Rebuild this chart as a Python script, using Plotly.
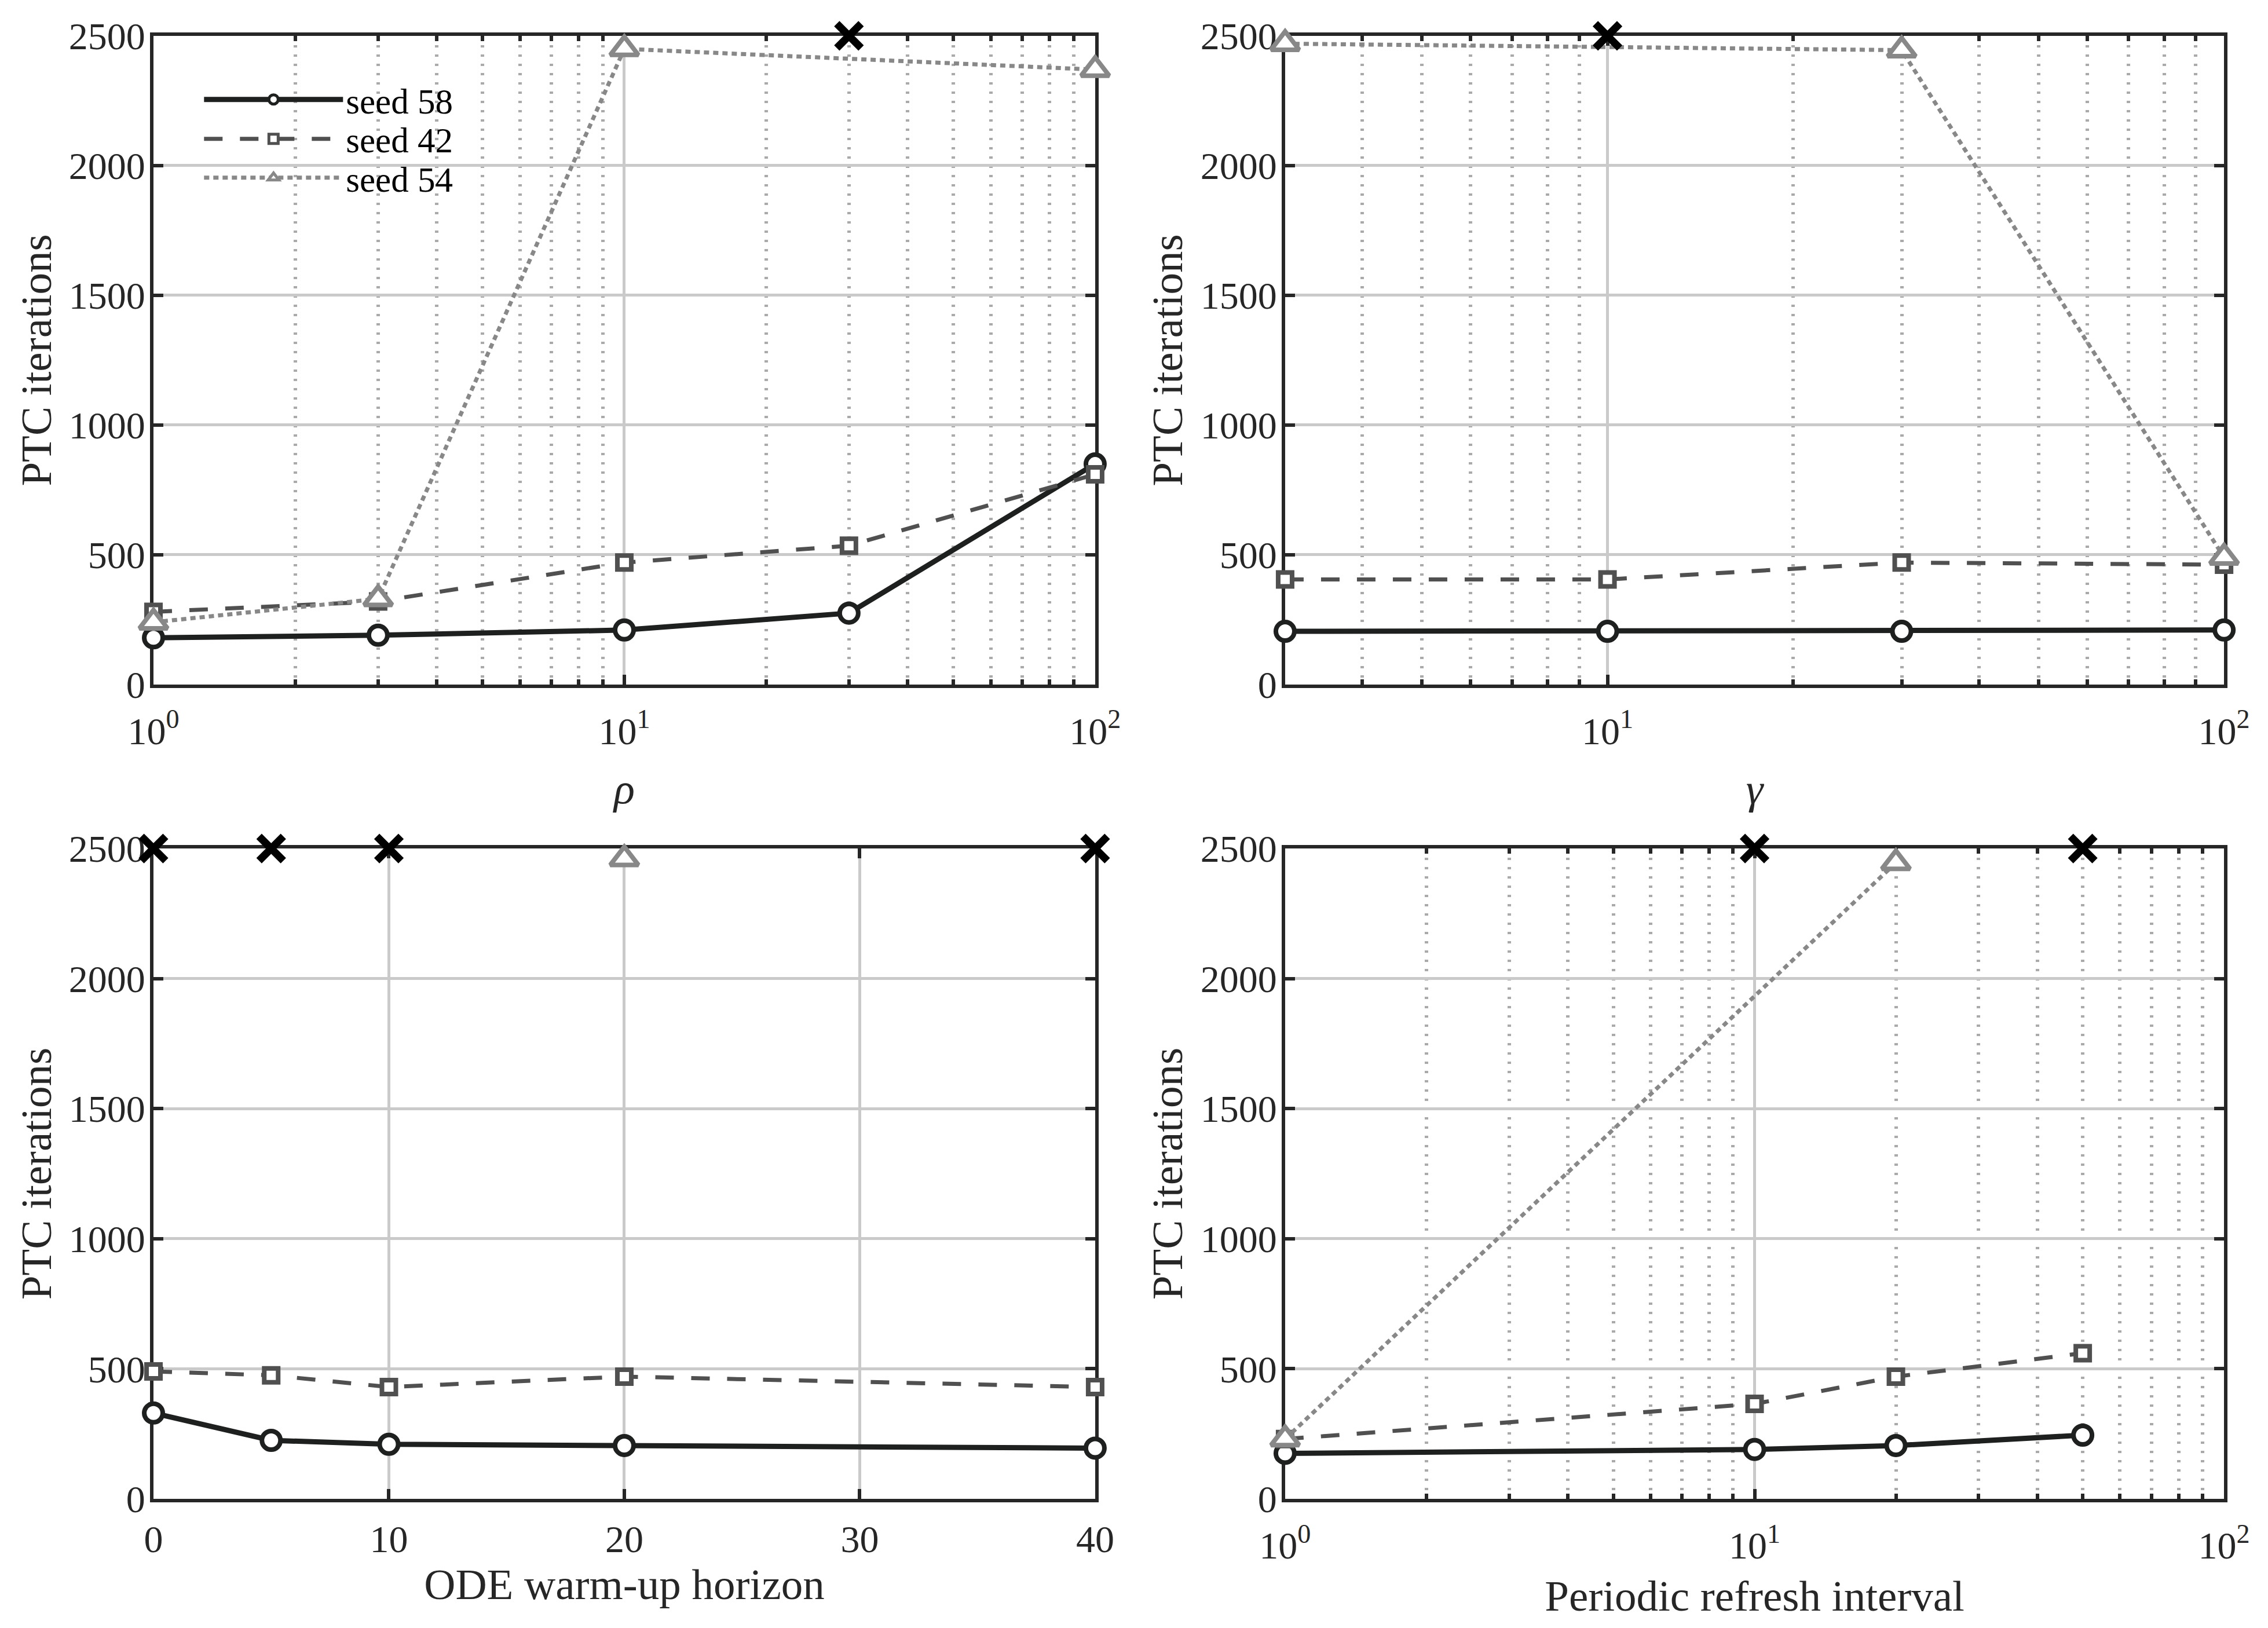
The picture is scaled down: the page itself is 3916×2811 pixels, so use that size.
import plotly.graph_objects as go
from plotly.subplots import make_subplots

# sweep values and PTC iteration counts per seed (failed runs are capped at 2500)
rho = [1, 3, 10, 30, 100]
rho_s58 = [180, 190, 210, 275, 850]
rho_s42 = [280, 320, 470, 535, 810]
rho_s54_x = [1, 3, 10, 100]
rho_s54 = [240, 330, 2450, 2370]
rho_fail = [30]

gamma = [3, 10, 30, 100]
gamma_s58 = [205, 205, 205, 210]
gamma_s42 = [405, 405, 470, 462]
gamma_s54_x = [3, 30, 100]
gamma_s54 = [2470, 2445, 490]
gamma_fail = [10]

ode = [0, 5, 10, 20, 40]
ode_s58 = [330, 225, 210, 205, 195]
ode_s42 = [490, 475, 430, 470, 430]
ode_s54_x = [20]
ode_s54 = [2460]
ode_fail = [0, 5, 10, 40]

refresh = [1, 10, 20, 50]
ref_s58 = [175, 190, 205, 245]
ref_s42 = [230, 365, 470, 560]
ref_s54_x = [1, 20]
ref_s54 = [230, 2445]
ref_fail = [10, 50]

CAP = 2500
FONT = "Liberation Serif, Times New Roman, serif"
INK = "#262626"

fig = make_subplots(rows=2, cols=2)

panels = [
    (1, 1, rho, rho_s58, rho_s42, rho_s54_x, rho_s54, rho_fail),
    (1, 2, gamma, gamma_s58, gamma_s42, gamma_s54_x, gamma_s54, gamma_fail),
    (2, 1, ode, ode_s58, ode_s42, ode_s54_x, ode_s54, ode_fail),
    (2, 2, refresh, ref_s58, ref_s42, ref_s54_x, ref_s54, ref_fail),
]

for i, (r, c, xs, s58, s42, x54, s54, fail) in enumerate(panels):
    first = i == 0
    fig.add_trace(go.Scatter(
        x=xs, y=s58, name="seed 58", mode="lines+markers", showlegend=first,
        legend="legend", cliponaxis=False,
        line=dict(color="#1e201f", width=9),
        marker=dict(symbol="circle", size=32, color="white",
                    line=dict(color="#1e201f", width=8))), row=r, col=c)
    fig.add_trace(go.Scatter(
        x=xs, y=s42, name="seed 42", mode="lines+markers", showlegend=first,
        legend="legend2", cliponaxis=False,
        line=dict(color="#505050", width=7, dash="32px,30px"),
        marker=dict(symbol="square", size=24, color="white",
                    line=dict(color="#505050", width=8))), row=r, col=c)
    fig.add_trace(go.Scatter(
        x=x54, y=s54, name="seed 54", mode="lines+markers", showlegend=first,
        legend="legend3", cliponaxis=False,
        line=dict(color="#888888", width=7, dash="9px,7px"),
        marker=dict(symbol="triangle-up", size=42, color="white",
                    line=dict(color="#888888", width=8))), row=r, col=c)
    fig.add_trace(go.Scatter(
        x=fail, y=[CAP] * len(fail), name="failed", mode="markers",
        showlegend=False, cliponaxis=False,
        marker=dict(symbol="x-thin", size=42, color="black",
                    line=dict(color="black", width=13))), row=r, col=c)

# panel boxes (figure sits 8px in from the page corner)
dom_x = [[0.0659, 0.4828], [0.5669, 0.9826]]
dom_y = [[0.5800, 0.9807], [0.0769, 0.4787]]

axis_common = dict(
    automargin=False,
    showline=True, linecolor=INK, linewidth=6, mirror="ticks",
    ticks="inside", ticklen=17, tickwidth=6, tickcolor=INK,
    showgrid=True, gridcolor="#cacaca", gridwidth=5,
    zeroline=False, layer="below traces",
    tickfont=dict(family=FONT, size=66, color=INK),
    title_font=dict(family=FONT, size=75, color=INK),
)

minor_log = dict(
    tickvals=[2, 3, 4, 5, 6, 7, 8, 9, 20, 30, 40, 50, 60, 70, 80, 90],
    ticks="inside", ticklen=9, tickwidth=6, tickcolor=INK,
    showgrid=True, gridcolor="#aaaaaa", gridwidth=6, griddash="4px,12px",
)

log_labels = dict(tickvals=[1, 10, 100],
                  ticktext=["10<sup>0</sup>", "10<sup>1</sup>", "10<sup>2</sup>"])

xaxes = [
    dict(type="log", range=[0, 2], minor=minor_log, title_text="<i>ρ</i>",
         title_standoff=38, ticklabelstandoff=18, **log_labels),
    dict(type="log", range=[0.4771, 2], minor=minor_log, title_text="<i>γ</i>",
         title_standoff=38, ticklabelstandoff=18, **log_labels),
    dict(type="linear", range=[0, 40], tickvals=[0, 10, 20, 30, 40],
         title_text="ODE warm-up horizon", title_standoff=0, ticklabelstandoff=7),
    dict(type="log", range=[0, 2], minor=minor_log,
         title_text="Periodic refresh interval", title_standoff=26,
         ticklabelstandoff=18, **log_labels),
]

for i, (r, c) in enumerate([(1, 1), (1, 2), (2, 1), (2, 2)]):
    fig.update_xaxes(domain=dom_x[c - 1], **axis_common, **xaxes[i], row=r, col=c)
    fig.update_yaxes(domain=dom_y[r - 1], range=[0, CAP],
                     tickvals=[0, 500, 1000, 1500, 2000, 2500],
                     title_text="PTC iterations", title_standoff=8,
                     ticklabelstandoff=-5, **axis_common, row=r, col=c)

legend_style = dict(x=0.087, xanchor="left", yanchor="middle",
                    bgcolor="rgba(0,0,0,0)", itemwidth=240,
                    font=dict(family=FONT, size=61, color="black"))

fig.update_layout(
    width=3900, height=2795,
    margin=dict(l=0, r=0, t=0, b=0),
    paper_bgcolor="white", plot_bgcolor="white",
    font=dict(family=FONT, color=INK),
    showlegend=True,
    legend=dict(y=0.9413, **legend_style),
    legend2=dict(y=0.9170, **legend_style),
    legend3=dict(y=0.8930, **legend_style),
)

fig.write_html("out.html")
